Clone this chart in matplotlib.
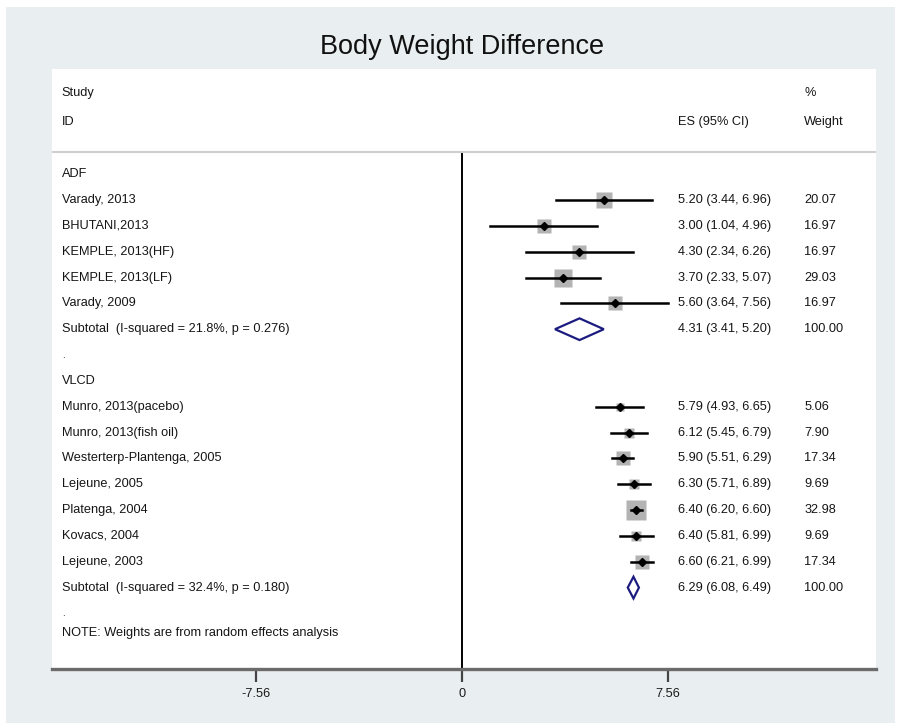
import numpy as np
import matplotlib.pyplot as plt
import matplotlib.transforms as mtransforms
from matplotlib.patches import Rectangle, Polygon

plt.rcParams['font.family'] = ['Liberation Sans', 'DejaVu Sans']

# study rows (row index, label, estimate, lower, upper, weight)
adf_labels = ['Varady, 2013', 'BHUTANI,2013', 'KEMPLE, 2013(HF)', 'KEMPLE, 2013(LF)', 'Varady, 2009']
adf_es = [5.20, 3.00, 4.30, 3.70, 5.60]
adf_lo = [3.44, 1.04, 2.34, 2.33, 3.64]
adf_hi = [6.96, 4.96, 6.26, 5.07, 7.56]
adf_wt = [20.07, 16.97, 16.97, 29.03, 16.97]

vlcd_labels = ['Munro, 2013(pacebo)', 'Munro, 2013(fish oil)', 'Westerterp-Plantenga, 2005',
               'Lejeune, 2005', 'Platenga, 2004', 'Kovacs, 2004', 'Lejeune, 2003']
vlcd_es = [5.79, 6.12, 5.90, 6.30, 6.40, 6.40, 6.60]
vlcd_lo = [4.93, 5.45, 5.51, 5.71, 6.20, 5.81, 6.21]
vlcd_hi = [6.65, 6.79, 6.29, 6.89, 6.60, 6.99, 6.99]
vlcd_wt = [5.06, 7.90, 17.34, 9.69, 32.98, 9.69, 17.34]

# pooled estimates per subgroup
sub_labels = ['Subtotal  (I-squared = 21.8%, p = 0.276)', 'Subtotal  (I-squared = 32.4%, p = 0.180)']
sub_es = [4.31, 6.29]
sub_lo = [3.41, 6.08]
sub_hi = [5.20, 6.49]

xticks = [-7.56, 0, 7.56]
xticklabels = ['-7.56', '0', '7.56']

fig = plt.figure(figsize=(8.99, 7.25), dpi=100)
fig.patch.set_facecolor('white')
fig.patches.append(Rectangle((6 / 899, 2 / 725), 889 / 899, 716 / 725,
                             transform=fig.transFigure, facecolor='#e9eef1',
                             edgecolor='none', zorder=-10))

ax = fig.add_axes([52 / 899, 56 / 725, 824 / 899, 600 / 725])
ax.set_facecolor('white')
ax.set_xlim(-15.05, 15.19)
ax.set_ylim(19.15, -4.07)
for s in ['top', 'left', 'right']:
    ax.spines[s].set_visible(False)
ax.spines['bottom'].set_color('#6b6b6b')
ax.spines['bottom'].set_linewidth(2.4)
ax.set_yticks([])
ax.set_xticks(xticks)
ax.set_xticklabels(xticklabels)
ax.tick_params(axis='x', length=9, width=1.6, color='#444444', labelsize=9.2,
               labelcolor='#1a1a1a', pad=5)

tr = mtransforms.blended_transform_factory(ax.transAxes, ax.transData)
fs = 9.2
tc = '#151515'
col_study, col_es, col_wt = 0.012, 0.760, 0.913

# header
ax.text(col_study, -3.14, 'Study', transform=tr, fontsize=fs, color=tc, va='center')
ax.text(col_study, -2.0, 'ID', transform=tr, fontsize=fs, color=tc, va='center')
ax.text(col_es, -2.0, 'ES (95% CI)', transform=tr, fontsize=fs, color=tc, va='center')
ax.text(col_wt, -3.14, '%', transform=tr, fontsize=fs, color=tc, va='center')
ax.text(col_wt, -2.0, 'Weight', transform=tr, fontsize=fs, color=tc, va='center')
ax.axhline(-0.85, color='#cfcfcf', lw=1.5)
ax.plot([0, 0], [-0.85, 19.15], color='black', lw=1.4, zorder=1)


def draw_group(start, title, labels, es, lo, hi, wt, sub_label, s_es, s_lo, s_hi):
    ax.text(col_study, start, title, transform=tr, fontsize=fs, color=tc, va='center')
    for i in range(len(labels)):
        y = start + 1 + i
        ax.text(col_study, y, labels[i], transform=tr, fontsize=fs, color=tc, va='center')
        # box area follows the study weight
        ax.plot(es[i], y, marker='s', ms=3.5 * np.sqrt(wt[i]) / 1.389,
                color='#b3b3b3', mec='none', zorder=2)
        ax.plot([lo[i], hi[i]], [y, y], color='black', lw=1.8, zorder=3)
        ax.plot(es[i], y, marker='D', ms=3.6, color='black', zorder=4)
        ax.text(col_es, y, f'{es[i]:.2f} ({lo[i]:.2f}, {hi[i]:.2f})', transform=tr,
                fontsize=fs, color=tc, va='center')
        ax.text(col_wt, y, f'{wt[i]:.2f}', transform=tr, fontsize=fs, color=tc, va='center')
    y = start + 1 + len(labels)
    ax.text(col_study, y, sub_label, transform=tr, fontsize=fs, color=tc, va='center')
    h = 0.42
    ax.add_patch(Polygon([(s_lo, y), (s_es, y - h), (s_hi, y), (s_es, y + h)],
                         closed=True, fill=False, edgecolor='#1c1c80', lw=1.6, zorder=3))
    ax.text(col_es, y, f'{s_es:.2f} ({s_lo:.2f}, {s_hi:.2f})', transform=tr,
            fontsize=fs, color=tc, va='center')
    ax.text(col_wt, y, '100.00', transform=tr, fontsize=fs, color=tc, va='center')
    ax.text(col_study, y + 1, '.', transform=tr, fontsize=fs - 2, color=tc, va='center')


draw_group(0, 'ADF', adf_labels, adf_es, adf_lo, adf_hi, adf_wt,
           sub_labels[0], sub_es[0], sub_lo[0], sub_hi[0])
draw_group(8, 'VLCD', vlcd_labels, vlcd_es, vlcd_lo, vlcd_hi, vlcd_wt,
           sub_labels[1], sub_es[1], sub_lo[1], sub_hi[1])

ax.text(col_study, 17.75, 'NOTE: Weights are from random effects analysis', transform=tr,
        fontsize=fs, color=tc, va='center')

fig.text(462 / 899, 1 - 47 / 725, 'Body Weight Difference', fontsize=19.5, color='#111111',
         ha='center', va='center')

fig.savefig('out.png', dpi=100, facecolor=fig.get_facecolor())
